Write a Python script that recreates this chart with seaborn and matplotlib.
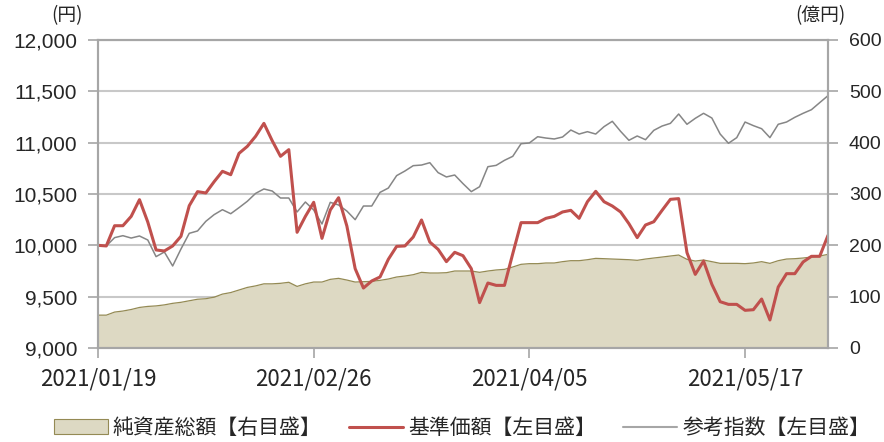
import numpy as np
import pandas as pd
import matplotlib.pyplot as plt
import seaborn as sns
from matplotlib.patches import Patch
from matplotlib.lines import Line2D

# business-day series, 2021/01/19 .. 2021/05/31 (89 points)
nav = [10000, 9994, 10191, 10191, 10282, 10445, 10227, 9955, 9945, 9994,
       10088, 10386, 10523, 10510, 10620, 10721, 10688, 10896, 10964, 11062,
       11188, 11019, 10867, 10932, 10127, 10282, 10419, 10068, 10344, 10464,
       10188, 9773, 9584, 9653, 9692, 9864, 9990, 9994, 10081, 10247,
       10032, 9961, 9841, 9932, 9899, 9773, 9442, 9633, 9610, 9610,
       9919, 10221, 10221, 10221, 10263, 10282, 10325, 10341, 10263, 10425,
       10526, 10425, 10383, 10325, 10211, 10075, 10198, 10230, 10341, 10448,
       10455, 9929, 9717, 9847, 9620, 9451, 9425, 9425, 9367, 9373,
       9477, 9273, 9594, 9724, 9724, 9838, 9893, 9893, 10097]

ref_index = [10000, 9994, 10075, 10094, 10071, 10091, 10052, 9890, 9935, 9799,
             9964, 10117, 10140, 10234, 10299, 10347, 10308, 10367, 10429, 10506,
             10549, 10529, 10461, 10461, 10325, 10422, 10344, 10208, 10419, 10393,
             10334, 10250, 10383, 10383, 10516, 10558, 10679, 10724, 10776, 10782,
             10805, 10708, 10666, 10685, 10601, 10523, 10571, 10766, 10779, 10828,
             10867, 10990, 10997, 11058, 11045, 11036, 11055, 11123, 11084, 11107,
             11084, 11156, 11208, 11110, 11023, 11065, 11029, 11120, 11162, 11188,
             11279, 11179, 11237, 11286, 11240, 11084, 10994, 11049, 11201, 11166,
             11136, 11049, 11179, 11201, 11247, 11286, 11321, 11390, 11458]

net_assets = [64, 64, 70, 72, 75, 79, 81, 82, 84, 87,
              89, 92, 95, 96, 99, 105, 108, 113, 118, 121,
              125, 125, 126, 128, 120, 125, 128.5, 128.5, 133.7, 135.7,
              132.4, 128.5, 129.2, 129.8, 131.8, 134.4, 138.3, 140.2, 142.8, 147.4,
              146.1, 146.1, 146.7, 150, 150, 150, 147.4, 150, 152, 153.2,
              157.8, 163, 164.3, 164.3, 165.6, 165.6, 168.2, 170.1, 170.1, 172,
              174.6, 174, 173.3, 172.7, 172, 170.8, 173.3, 175.3, 177.2, 179.2,
              181.1, 172.7, 169.4, 171.4, 168.2, 164.9, 164.9, 164.9, 164.3, 165.6,
              168.2, 164.9, 170.1, 173.3, 174, 175.3, 177.2, 179.2, 182.4]

tick_pos = [0, 26, 52, 78]
tick_labels = ["2021/01/19", "2021/02/26", "2021/04/05", "2021/05/17"]
left_ticks = [9000, 9500, 10000, 10500, 11000, 11500, 12000]
right_ticks = [0, 100, 200, 300, 400, 500, 600]
legend_labels = ["純資産総額【右目盛】", "基準価額【左目盛】", "参考指数【左目盛】"]

df = pd.DataFrame({"x": np.arange(len(nav)), "nav": nav,
                   "ref": ref_index, "assets": net_assets})

sns.set_style("white")
plt.rcParams['font.family'] = ['Liberation Sans', 'Noto Sans CJK JP', 'DejaVu Sans']

RED = "#C0504D"
GRAY = "#868686"
FILL = "#DDD9C3"
EDGE = "#948A54"
SPINE = "#A6A6A6"
GRID = "#C8C8C8"

fig = plt.figure(figsize=(8.84, 4.42), dpi=100)
ax = fig.add_axes([98/884, 1-348/442, 730/884, 308/442])
ax2 = ax.twinx()

# right axis (bottom layer): grid + net assets area
ax2.set_zorder(0)
ax.set_zorder(1)
ax.patch.set_visible(False)
ax2.set_axisbelow(True)
ax2.yaxis.grid(True, color=GRID, lw=1.5)
ax2.fill_between(df["x"], df["assets"], 0, color=FILL, lw=0, zorder=2)
sns.lineplot(data=df, x="x", y="assets", ax=ax2, color=EDGE, lw=0.9, zorder=3)
ax2.set_ylim(0, 600)
ax2.set_yticks(right_ticks)
ax2.set_yticklabels([f"{v:,}" for v in right_ticks], fontsize=14)
ax2.set_ylabel("")

# left axis: lines
sns.lineplot(data=df, x="x", y="ref", ax=ax, color=GRAY, lw=1.1)
sns.lineplot(data=df, x="x", y="nav", ax=ax, color=RED, lw=2.2)
ax.set_ylim(9000, 12000)
ax.set_yticks(left_ticks)
ax.set_yticklabels([f"{v:,}" for v in left_ticks], fontsize=15)
ax.set_xlim(0, len(nav) - 1)
ax.set_xticks(tick_pos)
ax.set_xticklabels(tick_labels, fontsize=16, family=['Noto Sans CJK JP', 'DejaVu Sans'])
ax.set_xlabel("")
ax.set_ylabel("")

for a in (ax, ax2):
    for s in a.spines.values():
        s.set_visible(True)
        s.set_color(SPINE)
        s.set_linewidth(1.5)
ax.tick_params(axis="y", direction="out", length=7, width=1.2, color=SPINE, pad=8, left=True)
ax.tick_params(axis="x", direction="out", length=7, width=1.2, color=SPINE, pad=7, bottom=True)
ax2.tick_params(axis="y", direction="out", length=7, width=1.2, color=SPINE, pad=8, right=True)

fig.text(67/884, 1-16/442, "(円)", fontsize=13.5, ha="center", va="center",
         family=['Noto Sans CJK JP'])
fig.text(820/884, 1-16/442, "(億円)", fontsize=13.5, ha="center", va="center",
         family=['Noto Sans CJK JP'])

handles = [Patch(facecolor=FILL, edgecolor=EDGE, lw=0.8),
           Line2D([], [], color=RED, lw=2.2),
           Line2D([], [], color="#A6A6A6", lw=1.5)]
fig.legend(handles, legend_labels, loc="center", bbox_to_anchor=(462/884, 14/442),
           ncol=3, frameon=False, handlelength=2.6, handletextpad=0.25,
           columnspacing=1.3, prop={"family": ['Noto Sans CJK JP'], "size": 15})

fig.savefig("out.png", dpi=100)
